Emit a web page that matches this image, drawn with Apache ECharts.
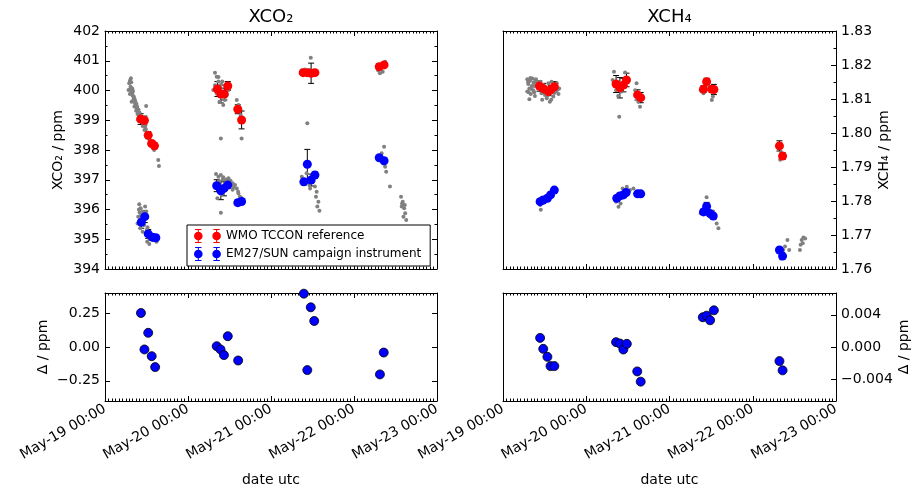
<!DOCTYPE html>
<html>
<head>
<meta charset="UTF-8">
<title>XCO2 / XCH4 side-by-side comparison</title>
<script src="https://cdn.jsdelivr.net/npm/echarts@6/dist/echarts.min.js"></script>
</head>
<body style="margin:0;background:#fff;">
<div id="main" style="width:912px;height:490px;"></div>
<script>
// time is in hours since May-19 00:00 UTC
var dayLabels = ['May-19 00:00', 'May-20 00:00', 'May-21 00:00', 'May-22 00:00', 'May-23 00:00'];

// XCO2, individual measurements (grey)
var co2IndivTime = [7.5, 7.0, 7.4, 6.8, 7.7, 7.2, 8.0, 8.2, 7.7, 8.7, 8.5, 9.2, 9.0, 9.4, 9.9, 9.6, 10.6, 10.9, 11.6, 11.4,
    12.1, 11.9, 12.5, 13.0, 12.8, 13.5, 14.0, 14.5, 11.9, 15.4, 15.6, 7.9, 8.4, 8.9, 9.5, 10.1, 11.1, 12.3, 13.8, 14.2,
    7.2, 7.6, 7.3, 7.9, 8.1, 8.3, 8.6, 8.8, 9.1, 9.3, 9.7, 10.0, 10.3, 10.7, 11.2, 11.8, 12.7, 13.2,
    9.9, 10.3, 10.9, 11.6, 11.9, 9.6, 10.6, 11.3, 10.2, 10.9, 12.1, 12.5, 13.0, 12.2, 13.8, 14.5, 14.9, 12.8, 11.6, 9.4,
    10.0, 11.0, 12.3, 13.3, 11.8, 12.9, 10.4, 9.8,
    31.8, 32.3, 32.8, 31.8, 33.3, 32.3, 33.7, 33.1, 34.2, 34.7, 35.0, 35.7, 35.2, 33.5, 38.1, 38.6, 38.9, 39.2, 39.5, 31.3,
    32.8, 33.6, 34.0, 34.6, 33.9,
    32.1, 32.8, 33.5, 34.2, 35.0, 35.7, 36.3, 36.9, 37.6, 38.1, 36.9, 38.6, 39.0, 39.8, 37.9, 32.3, 33.1, 33.7, 32.5, 33.5, 36.0, 34.7,
    34.0, 35.3, 36.6, 37.2, 33.0, 38.5, 39.3,
    56.9, 57.8, 59.1, 60.2, 61.2, 59.5, 58.5, 57.5,
    56.9, 57.5, 58.3, 59.1, 59.8, 60.2, 60.7, 61.2, 61.0, 61.7, 61.4, 62.0, 59.3,
    79.0, 79.5, 80.3, 81.0,
    79.0, 79.7, 80.5, 81.0, 81.3, 80.7, 80.0, 82.4, 85.6, 86.1, 85.8, 86.5, 86.8, 86.3, 87.1, 85.9, 86.7];
var co2IndivVal = [400.41, 400.24, 400.13, 400.02, 399.96, 399.88, 399.82, 399.68, 399.62, 399.57, 399.46, 399.40, 399.32, 399.21, 399.12, 399.01, 398.95, 398.81, 398.78, 398.67,
    398.58, 398.45, 398.39, 398.31, 398.20, 398.13, 398.06, 398.11, 399.48, 397.66, 397.46, 400.07, 399.74, 399.51, 399.29, 399.06, 398.87, 398.50, 398.22, 398.00,
    400.33, 400.28, 400.05, 399.92, 399.98, 399.80, 399.70, 399.62, 399.55, 399.45, 399.35, 399.25, 399.15, 399.05, 398.95, 398.70, 398.45, 398.25,
    396.18, 396.04, 395.93, 396.10, 395.93, 395.76, 395.65, 395.48, 395.37, 395.25, 395.31, 395.14, 395.03, 394.92, 394.97, 395.03, 394.92, 394.84, 395.70, 395.53,
    395.90, 395.80, 395.40, 395.10, 395.20, 395.00, 395.80, 396.00,
    400.60, 400.46, 400.30, 400.18, 400.07, 399.90, 399.79, 399.62, 399.51, 399.68, 400.13, 400.02, 399.85, 398.39, 399.68, 399.51, 399.34, 399.18, 398.39, 400.02,
    400.45, 400.20, 399.95, 399.85, 400.30,
    397.19, 397.10, 397.16, 397.08, 397.01, 397.05, 396.97, 396.88, 396.82, 396.71, 396.66, 396.54, 396.43, 396.34, 396.26, 396.88, 396.66, 396.49, 396.38, 395.89, 396.77, 396.88,
    397.00, 396.95, 396.85, 396.75, 396.95, 396.60, 396.40,
    400.67, 400.71, 400.69, 400.67, 400.63, 401.10, 398.90, 400.58,
    397.10, 396.88, 397.22, 396.82, 397.10, 396.94, 396.77, 396.60, 396.43, 396.26, 396.10, 395.96, 396.71,
    400.67, 400.58, 400.63, 400.97,
    397.78, 397.66, 397.55, 397.44, 397.27, 398.11, 397.89, 396.77, 396.43, 396.26, 396.10, 396.04, 395.87, 395.76, 395.65, 396.20, 396.15];

// XCO2, WMO TCCON reference
var co2RefTime = [10.3, 11.4, 12.5, 13.5, 14.3, 32.5, 33.5, 34.5, 35.5, 38.4, 39.5, 57.3, 58.5, 59.6, 60.7, 79.3, 80.7];
var co2RefVal = [399.04, 398.99, 398.50, 398.22, 398.14, 400.05, 399.88, 399.88, 400.15, 399.37, 399.01, 400.60, 400.60, 400.58, 400.60, 400.80, 400.86];
var co2RefErr = [0.18, 0.15, 0.12, 0.10, 0.10, 0.25, 0.30, 0.20, 0.15, 0.15, 0.30, 0.05, 0.05, 0.34, 0.05, 0.10, 0.08];

// XCO2, EM27/SUN campaign instrument
var co2EmTime = [10.5, 11.5, 12.5, 13.7, 14.7, 32.3, 33.5, 34.4, 35.5, 38.4, 39.5, 57.5, 58.5, 59.6, 60.7, 79.3, 80.7];
var co2EmVal = [395.57, 395.76, 395.18, 395.07, 395.05, 396.80, 396.63, 396.71, 396.82, 396.23, 396.27, 396.93, 397.52, 396.99, 397.16, 397.74, 397.64];
var co2EmErr = [0.20, 0.20, 0.15, 0.10, 0.08, 0.20, 0.30, 0.25, 0.10, 0.10, 0.10, 0.10, 0.50, 0.20, 0.10, 0.05, 0.05];

// XCH4, individual measurements (grey)
var ch4IndivTime = [7.0, 7.8, 8.5, 9.2, 7.3, 8.3, 7.6, 8.7, 9.7, 10.2, 7.0, 8.0, 7.6, 9.2, 10.7, 11.6, 12.1, 12.6, 13.5, 14.5,
    15.3, 16.0, 15.5, 14.0, 16.2, 11.1, 13.1,
    7.2, 7.9, 8.8, 9.5, 8.1, 7.4, 9.0, 9.9, 8.9, 12.9, 14.8, 15.8, 13.9, 11.3,
    10.2, 10.7, 10.9, 11.6, 12.4, 13.4, 14.0, 15.0, 11.1,
    32.0, 35.2, 31.6, 32.6, 33.2, 34.2, 35.2, 35.7, 33.5, 38.5, 38.1, 39.0, 39.5, 40.0, 33.0,
    32.6, 33.3, 33.9, 34.5, 35.7, 36.6, 37.6, 38.5, 40.0, 34.7, 33.5,
    57.0, 58.7, 59.7, 60.5, 60.2, 61.4, 57.8,
    58.7, 57.0, 58.2, 59.7, 61.1, 61.6, 62.1, 60.6, 59.1,
    79.9, 79.4,
    79.4, 80.1, 80.8, 82.0, 82.5, 81.3,
    85.6, 85.8, 86.1, 86.6, 87.1, 86.4];
var ch4IndivVal = [1.8158, 1.8154, 1.8160, 1.8151, 1.8144, 1.8138, 1.8131, 1.8126, 1.8146, 1.8131, 1.8122, 1.8115, 1.8099, 1.8109, 1.8151, 1.8141, 1.8112, 1.8102, 1.8092, 1.8107,
    1.8122, 1.8115, 1.8146, 1.8151, 1.8131, 1.8117, 1.8146,
    1.8150, 1.8162, 1.8148, 1.8158, 1.8130, 1.8120, 1.8120, 1.8138, 1.8138, 1.8110, 1.8118, 1.8128, 1.8098, 1.8098,
    1.7803, 1.7788, 1.7774, 1.7795, 1.7813, 1.7823, 1.7827, 1.7837, 1.7808,
    1.8180, 1.8178, 1.8156, 1.8126, 1.8109, 1.8122, 1.8136, 1.8161, 1.8048, 1.8146, 1.8126, 1.8092, 1.8077, 1.8102, 1.8141,
    1.7798, 1.7783, 1.7793, 1.7837, 1.7842, 1.7832, 1.7837, 1.7827, 1.7823, 1.7813, 1.7818,
    1.8126, 1.8141, 1.8136, 1.8107, 1.8097, 1.8126, 1.8117,
    1.7811, 1.7764, 1.7774, 1.7754, 1.7749, 1.7734, 1.7720, 1.7769, 1.7788,
    1.7921, 1.7955,
    1.7651, 1.7631, 1.7656, 1.7685, 1.7656, 1.7666,
    1.7656, 1.7671, 1.7685, 1.7693, 1.7690, 1.7676];

// XCH4, WMO TCCON reference
var ch4RefTime = [10.5, 11.6, 13.1, 13.8, 14.8, 32.6, 33.7, 34.7, 35.6, 38.8, 39.7, 57.8, 58.7, 60.2, 60.8, 79.7, 80.6];
var ch4RefVal = [1.8138, 1.8131, 1.8122, 1.8128, 1.8136, 1.8144, 1.8133, 1.8141, 1.8156, 1.8112, 1.8104, 1.8129, 1.8151, 1.8129, 1.8128, 1.7962, 1.7932];
var ch4RefErr = [0.0015, 0.0015, 0.0012, 0.0012, 0.0015, 0.0025, 0.0030, 0.0020, 0.0020, 0.0015, 0.0015, 0.0010, 0.0010, 0.0010, 0.0015, 0.0015, 0.0010];

// XCH4, EM27/SUN campaign instrument
var ch4EmTime = [10.7, 11.6, 12.8, 13.7, 14.8, 32.8, 33.7, 34.7, 35.5, 38.8, 39.7, 57.8, 58.7, 59.7, 60.6, 79.7, 80.6];
var ch4EmVal = [1.7798, 1.7803, 1.7808, 1.7818, 1.7832, 1.7808, 1.7815, 1.7818, 1.7825, 1.7821, 1.7821, 1.7768, 1.7784, 1.7763, 1.7756, 1.7656, 1.7638];
var ch4EmErr = [0.0005, 0.0005, 0.0005, 0.0005, 0.0005, 0.0008, 0.0008, 0.0008, 0.0008, 0.0005, 0.0005, 0.0008, 0.0012, 0.0008, 0.0005, 0.0005, 0.0005];

// differences
var dCo2Time = [10.4, 11.4, 12.5, 13.5, 14.5, 32.3, 33.4, 34.4, 35.5, 38.5, 57.5, 58.5, 59.5, 60.5, 79.5, 80.6];
var dCo2Val = [0.252, -0.018, 0.105, -0.068, -0.149, 0.006, -0.018, -0.060, 0.080, -0.100, 0.395, -0.171, 0.294, 0.193, -0.203, -0.041];
var dCh4Time = [10.7, 11.6, 12.8, 13.7, 14.8, 32.6, 33.7, 34.7, 35.7, 38.7, 39.7, 57.6, 58.7, 59.7, 60.8, 79.7, 80.6];
var dCh4Val = [0.00113, -0.00023, -0.00122, -0.00237, -0.00237, 0.0006, 0.00043, -0.00031, 0.00039, -0.00303, -0.0043, 0.00369, 0.00389, 0.00332, 0.00455, -0.00175, -0.0029];

var dCo2Ticks = [-0.25, 0, 0.25];
var dCh4Ticks = [-0.004, 0, 0.004];

function zip2(t, v) {
    return t.map(function (x, i) { return [x, v[i]]; });
}
function zip3(t, v, e) {
    return t.map(function (x, i) { return [x, v[i], e[i]]; });
}
function minus(s) {
    return s.charAt(0) === '-' ? '\u2212' + s.slice(1) : s;
}

var grids = [
    {left: 105, top: 31, width: 332, height: 238},
    {left: 503, top: 31, width: 333, height: 238},
    {left: 105, top: 293, width: 332, height: 108},
    {left: 503, top: 293, width: 333, height: 108}
];
grids.forEach(function (g) { g.outerBoundsMode = 'none'; });

function xPair(g, withLabels) {
    var common = {
        gridIndex: g, type: 'value', min: 0, max: 96, interval: 24,
        axisLine: {onZero: false, lineStyle: {color: '#000', width: 1}},
        axisTick: {inside: true, length: 5, lineStyle: {color: '#000'}},
        minorTick: {show: true, splitNumber: 24, length: 2.5, lineStyle: {color: '#000'}},
        splitLine: {show: false}
    };
    var bottom = Object.assign({}, common, {position: 'bottom', axisLabel: {show: false}});
    if (withLabels) {
        bottom.axisLabel = {
            show: true, rotate: 30, margin: 7, fontSize: 14, color: '#000',
            formatter: function (v) { return dayLabels[Math.round(v / 24)]; }
        };
        bottom.name = 'date utc';
        bottom.nameLocation = 'middle';
        bottom.nameGap = 72;
        bottom.nameTextStyle = {fontSize: 14, color: '#000'};
    }
    var top = Object.assign({}, common, {position: 'top', axisLabel: {show: false}});
    return [bottom, top];
}

function yPair(g, side, cfg) {
    var other = side === 'left' ? 'right' : 'left';
    var common = {
        gridIndex: g, type: 'value', min: cfg.min, max: cfg.max,
        splitLine: {show: false},
        axisLine: {onZero: false, lineStyle: {color: '#000', width: 1}}
    };
    if (cfg.interval) common.interval = cfg.interval;
    var tick = {inside: true, length: 5, lineStyle: {color: '#000'}};
    var label = {show: true, margin: 5, fontSize: 14, color: '#000', formatter: cfg.fmt};
    if (cfg.ticks) {
        tick.customValues = cfg.ticks;
        label.customValues = cfg.ticks;
    }
    var minor = cfg.minor ? {show: true, splitNumber: cfg.minor, length: 2.5, lineStyle: {color: '#000'}} : {show: false};
    var main = Object.assign({}, common, {
        position: side, axisTick: tick, minorTick: minor, axisLabel: label,
        name: cfg.name, nameLocation: 'middle', nameGap: cfg.nameGap, nameRotate: 90,
        nameTextStyle: {fontSize: 14, color: '#000'}
    });
    var second = Object.assign({}, common, {
        position: other, axisLabel: {show: false},
        axisTick: cfg.mirror ? tick : {show: false},
        minorTick: cfg.mirror ? minor : {show: false}
    });
    return [main, second];
}

var xAxes = [].concat(xPair(0, false), xPair(1, false), xPair(2, true), xPair(3, true));
var yAxes = [].concat(
    yPair(0, 'left', {min: 394, max: 402, interval: 1, minor: 2, mirror: true, name: 'XCO\u2082 / ppm', nameGap: 40,
        fmt: function (v) { return String(Math.round(v)); }}),
    yPair(1, 'right', {min: 1.76, max: 1.83, interval: 0.01, minor: 2, mirror: false, name: 'XCH\u2084 / ppm', nameGap: 41,
        fmt: function (v) { return v.toFixed(2); }}),
    yPair(2, 'left', {min: -0.4, max: 0.4, ticks: dCo2Ticks, mirror: true, name: '\u0394 / ppm', nameGap: 55,
        fmt: function (v) { return minus(v.toFixed(2)); }}),
    yPair(3, 'right', {min: -0.0067, max: 0.0067, ticks: dCh4Ticks, mirror: false, name: '\u0394 / ppm', nameGap: 61,
        fmt: function (v) { return minus(v.toFixed(3)); }})
);

function renderErr(params, api) {
    var x = api.value(0), y = api.value(1), e = api.value(2);
    var lo = api.coord([x, y - e]);
    var hi = api.coord([x, y + e]);
    var c = 3;
    return {
        type: 'group',
        children: [
            {type: 'line', shape: {x1: lo[0], y1: lo[1], x2: hi[0], y2: hi[1]}, style: {stroke: '#000', lineWidth: 1}},
            {type: 'line', shape: {x1: lo[0] - c, y1: lo[1], x2: lo[0] + c, y2: lo[1]}, style: {stroke: '#000', lineWidth: 1}},
            {type: 'line', shape: {x1: hi[0] - c, y1: hi[1], x2: hi[0] + c, y2: hi[1]}, style: {stroke: '#000', lineWidth: 1}}
        ]
    };
}

function errSeries(g, data) {
    return {
        type: 'custom', xAxisIndex: 2 * g, yAxisIndex: 2 * g, silent: true,
        renderItem: renderErr, dimensions: ['t', 'v', 'e'], encode: {x: 0, y: 1},
        data: data
    };
}
function dots(name, g, data, size, color, edge) {
    var s = {
        name: name, type: 'scatter', xAxisIndex: 2 * g, yAxisIndex: 2 * g,
        symbol: 'circle', symbolSize: size, silent: true,
        itemStyle: {color: color, opacity: 1},
        data: data
    };
    if (edge) {
        s.itemStyle.borderColor = '#000';
        s.itemStyle.borderWidth = 0.8;
    }
    return s;
}

var REF = 'WMO TCCON reference';
var EM = 'EM27/SUN campaign instrument';
var GREY = '#808080';

var series = [
    dots('individual XCO2', 0, zip2(co2IndivTime, co2IndivVal), 4, GREY),
    errSeries(0, zip3(co2RefTime, co2RefVal, co2RefErr)),
    dots(REF, 0, zip2(co2RefTime, co2RefVal), 9, '#ff0000'),
    errSeries(0, zip3(co2EmTime, co2EmVal, co2EmErr)),
    dots(EM, 0, zip2(co2EmTime, co2EmVal), 9, '#0000ff'),

    dots('individual XCH4', 1, zip2(ch4IndivTime, ch4IndivVal), 4, GREY),
    errSeries(1, zip3(ch4RefTime, ch4RefVal, ch4RefErr)),
    dots(REF, 1, zip2(ch4RefTime, ch4RefVal), 9, '#ff0000'),
    errSeries(1, zip3(ch4EmTime, ch4EmVal, ch4EmErr)),
    dots(EM, 1, zip2(ch4EmTime, ch4EmVal), 9, '#0000ff'),

    dots('delta XCO2', 2, zip2(dCo2Time, dCo2Val), 9, '#0000ff', true),
    dots('delta XCH4', 3, zip2(dCh4Time, dCh4Val), 9, '#0000ff', true)
];

// two markers with error bars, as in the matplotlib legend
var errIcon = 'path://M0.5,7a4,4 0 1,1 8,0a4,4 0 1,1 -8,0Z M17.5,7a4,4 0 1,1 8,0a4,4 0 1,1 -8,0Z' +
    'M4,1h1v12h-1Z M21,1h1v12h-1Z M1.5,0.5h6v1h-6Z M1.5,12.5h6v1h-6Z M18.5,0.5h6v1h-6Z M18.5,12.5h6v1h-6Z';

var option = {
    animation: false,
    backgroundColor: '#fff',
    textStyle: {fontFamily: 'DejaVu Sans', color: '#000'},
    grid: grids,
    xAxis: xAxes,
    yAxis: yAxes,
    legend: {
        left: 187, top: 225, orient: 'vertical', selectedMode: false,
        padding: [4, 9, 5, 7], itemGap: 4, itemWidth: 27, itemHeight: 14,
        borderColor: '#000', borderWidth: 1, borderRadius: 0, backgroundColor: '#fff',
        textStyle: {fontSize: 12, color: '#000', fontFamily: 'DejaVu Sans'},
        data: [{name: REF, icon: errIcon}, {name: EM, icon: errIcon}]
    },
    graphic: [
        {type: 'text', x: 271, y: 17, style: {text: 'XCO\u2082', font: '18px "DejaVu Sans"', fill: '#000',
            align: 'center', textAlign: 'center', verticalAlign: 'middle', textVerticalAlign: 'middle'}},
        {type: 'text', x: 669.5, y: 17, style: {text: 'XCH\u2084', font: '18px "DejaVu Sans"', fill: '#000',
            align: 'center', textAlign: 'center', verticalAlign: 'middle', textVerticalAlign: 'middle'}}
    ],
    series: series
};

var myChart = echarts.init(document.getElementById('main'), null, {renderer: 'canvas'});
myChart.setOption(option);
</script>
</body>
</html>
